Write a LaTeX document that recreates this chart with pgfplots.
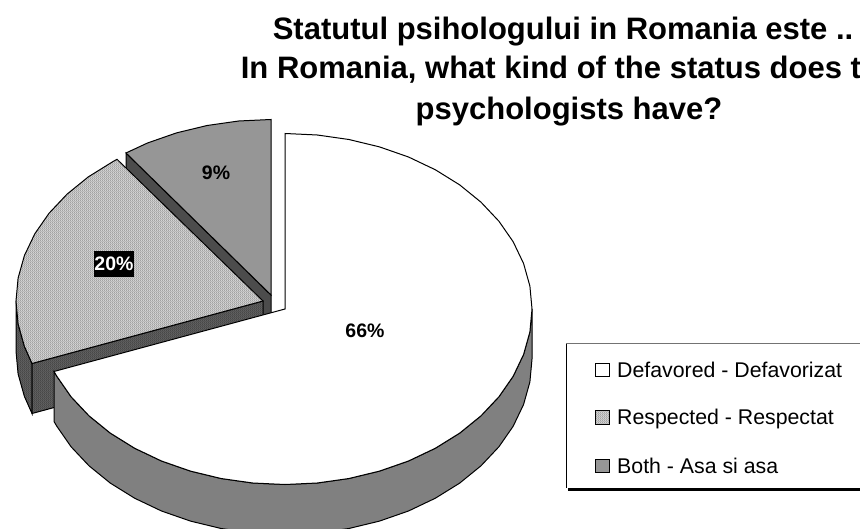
\documentclass[border=0pt]{standalone}
\usepackage{fontspec}
\setmainfont{Liberation Sans}
\usepackage{pgfplots}
\pgfplotsset{compat=1.18}
\usetikzlibrary{patterns}
\definecolor{gA}{gray}{0.44}
\definecolor{gB}{gray}{0.18}
\definecolor{gC}{gray}{0.47}
\definecolor{avgTop}{gray}{0.72}
\definecolor{avgWall}{gray}{0.325}
\pgfdeclarepatterninherentlycolored{chkTop}{\pgfqpoint{0bp}{0bp}}{\pgfqpoint{2bp}{2bp}}{\pgfqpoint{2bp}{2bp}}{%
  \pgfsetfillcolor{white}\pgfpathrectangle{\pgfqpoint{0bp}{0bp}}{\pgfqpoint{2bp}{2bp}}\pgfusepath{fill}%
  \pgfsetfillcolor{gA}\pgfpathrectangle{\pgfqpoint{0bp}{0bp}}{\pgfqpoint{1bp}{1bp}}\pgfpathrectangle{\pgfqpoint{1bp}{1bp}}{\pgfqpoint{1bp}{1bp}}\pgfusepath{fill}}
\pgfdeclarepatterninherentlycolored{chkWall}{\pgfqpoint{0bp}{0bp}}{\pgfqpoint{2bp}{2bp}}{\pgfqpoint{2bp}{2bp}}{%
  \pgfsetfillcolor{gC}\pgfpathrectangle{\pgfqpoint{0bp}{0bp}}{\pgfqpoint{2bp}{2bp}}\pgfusepath{fill}%
  \pgfsetfillcolor{gB}\pgfpathrectangle{\pgfqpoint{0bp}{0bp}}{\pgfqpoint{1bp}{1bp}}\pgfpathrectangle{\pgfqpoint{1bp}{1bp}}{\pgfqpoint{1bp}{1bp}}\pgfusepath{fill}}
\newcommand{\ttl}{\fontsize{31bp}{36bp}\selectfont\bfseries}
\newcommand{\lgd}{\fontsize{21.3bp}{25bp}\selectfont}
\newcommand{\pct}{\fontsize{19.5bp}{23bp}\selectfont\bfseries}
\begin{document}
\begin{tikzpicture}[x=1bp,y=1bp]
\useasboundingbox (0,0) rectangle (860,529);
\clip (0,0) rectangle (860,529);
\begin{axis}[at={(0,0)},anchor=south west,scale only axis,width=860bp,height=529bp,
  xmin=0,xmax=860,ymin=0,ymax=529,y dir=reverse,hide axis,clip=true,
  every axis plot/.append style={line width=1bp,line join=miter,no markers}]
% Both: side cut
\addplot[fill=black!70,draw=black] coordinates {(126,153)(271,295)(271,345)(126,203)} --cycle;
% Both: top
\addplot[fill=black!41,draw=black] coordinates {(271,295)(271,119.5)(238.8,121)(207.1,125.5)(176.5,132.9)(147.5,143)(126,153)} --cycle;
% Respected: walls
\addplot[fill=avgWall,draw=none] coordinates {(16,301)(18.1,323.9)(24.4,346.4)(32,363.5)(32,413.5)(24.4,396.4)(18.1,373.9)(16,351)} --cycle;
\addplot[pattern=chkWall,draw=black] coordinates {(16,301)(18.1,323.9)(24.4,346.4)(32,363.5)(32,413.5)(24.4,396.4)(18.1,373.9)(16,351)} --cycle;
\addplot[fill=avgWall,draw=none] coordinates {(32,363.5)(263,301)(263,351)(32,413.5)} --cycle;
\addplot[pattern=chkWall,draw=black] coordinates {(32,363.5)(263,301)(263,351)(32,413.5)} --cycle;
% Respected: top
\addplot[fill=avgTop,draw=none] coordinates {(263,301)(117,159.3)(112.6,161.8)(88.3,176.9)(67,194.2)(49.1,213.2)(34.8,233.8)(24.4,255.6)(18.1,278.1)(16,301)(18.1,323.9)(24.4,346.4)(32,363.5)} --cycle;
\addplot[pattern=chkTop,draw=black] coordinates {(263,301)(117,159.3)(112.6,161.8)(88.3,176.9)(67,194.2)(49.1,213.2)(34.8,233.8)(24.4,255.6)(18.1,278.1)(16,301)(18.1,323.9)(24.4,346.4)(32,363.5)} --cycle;
% Defavored: wall
\addplot[fill=black!50,draw=black] coordinates {(532,309)(529.9,331.9)(523.6,354.4)(513.2,376.2)(498.9,396.8)(481,415.8)(459.7,433.1)(435.4,448.2)(408.5,461)(379.5,471.1)(348.9,478.5)(317.2,483)(285,484.5)(252.8,483)(221.1,478.5)(190.5,471.1)(161.5,461)(134.6,448.2)(110.3,433.1)(89,415.8)(71.1,396.8)(56.8,376.2)(54,371.5)(54,421.5)(56.8,426.2)(71.1,446.8)(89,465.8)(110.3,483.1)(134.6,498.2)(161.5,511)(190.5,521.1)(221.1,528.5)(252.8,533)(285,534.5)(317.2,533)(348.9,528.5)(379.5,521.1)(408.5,511)(435.4,498.2)(459.7,483.1)(481,465.8)(498.9,446.8)(513.2,426.2)(523.6,404.4)(529.9,381.9)(532,359)} --cycle;
% Defavored: top
\addplot[fill=white,draw=black] coordinates {(285,309)(285,133.5)(317.2,135)(348.9,139.5)(379.5,146.9)(408.5,157)(435.4,169.8)(459.7,184.9)(481,202.2)(498.9,221.2)(513.2,241.8)(523.6,263.6)(529.9,286.1)(532,309)(529.9,331.9)(523.6,354.4)(513.2,376.2)(498.9,396.8)(481,415.8)(459.7,433.1)(435.4,448.2)(408.5,461)(379.5,471.1)(348.9,478.5)(317.2,483)(285,484.5)(252.8,483)(221.1,478.5)(190.5,471.1)(161.5,461)(134.6,448.2)(110.3,433.1)(89,415.8)(71.1,396.8)(56.8,376.2)(54,371.5)} --cycle;
% Legend frame
\addplot[draw=black!55,line width=1bp] coordinates {(566,344)(860,344)};
\addplot[draw=black,line width=1bp] coordinates {(566,344)(566,488)};
\addplot[draw=black,line width=3bp] coordinates {(568,489)(860,489)};
% Legend keys
\addplot[fill=white,draw=black] coordinates {(595.5,363.5)(609,363.5)(609,377)(595.5,377)} --cycle;
\addplot[fill=avgTop,draw=none] coordinates {(595.5,411)(609,411)(609,424.5)(595.5,424.5)} --cycle;
\addplot[pattern=chkTop,draw=black] coordinates {(595.5,411)(609,411)(609,424.5)(595.5,424.5)} --cycle;
\addplot[fill=black!41,draw=black] coordinates {(595.5,459)(609,459)(609,472.5)(595.5,472.5)} --cycle;
\node[anchor=base west,inner sep=0pt] at (axis cs:617,378) {\lgd Defavored - Defavorizat};
\node[anchor=base west,inner sep=0pt] at (axis cs:617,425) {\lgd Respected - Respectat};
\node[anchor=base west,inner sep=0pt] at (axis cs:617,473) {\lgd Both - Asa si asa};
% Data labels
\node[anchor=center,inner sep=0pt] at (axis cs:216,173) {\pct 9\%};
\node[anchor=center,inner sep=0pt] at (axis cs:365,331) {\pct 66\%};
\node[anchor=center,fill=black,text=white,minimum width=40bp,minimum height=26bp,inner sep=0pt] at (axis cs:114,264) {\pct 20\%};
% Title
\node[anchor=base,inner sep=0pt] at (axis cs:563,39.5) {\ttl Statutul psihologului in Romania este ..};
\node[anchor=base,inner sep=0pt] at (axis cs:569,79) {\ttl In Romania, what kind of the status does the};
\node[anchor=base,inner sep=0pt] at (axis cs:569,119.5) {\ttl psychologists have?};
\end{axis}
\end{tikzpicture}
\end{document}
